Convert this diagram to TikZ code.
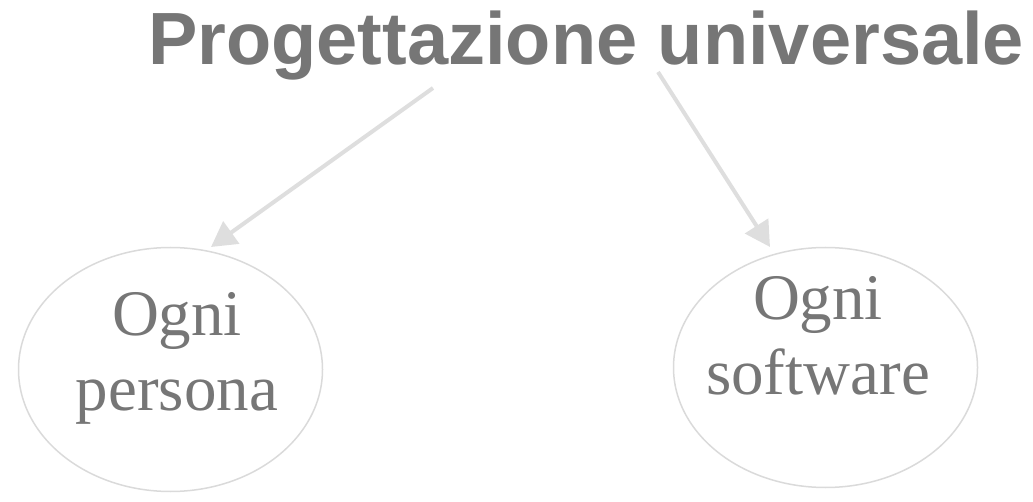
\documentclass[tikz,border=0pt]{standalone}
\usepackage{fontspec}
\setmainfont{Liberation Serif}
\newfontfamily\titlefont{Liberation Sans}
\usetikzlibrary{arrows.meta,shapes.geometric}
\definecolor{txtgray}{HTML}{767676}
\definecolor{arrgray}{HTML}{DEDEDE}
\definecolor{ellgray}{HTML}{DADADA}
\tikzset{
  titlestyle/.style={font=\titlefont\bfseries\fontsize{74}{80}\selectfont, text=txtgray, anchor=base west, inner sep=0pt},
  bubble/.style={ellipse, draw=ellgray, line width=1.5pt, inner sep=0pt},
  bubbletext/.style={font=\fontsize{65}{75}\selectfont, text=txtgray, align=center, anchor=base, inner sep=0pt},
  arr/.style={draw=arrgray, line width=4pt, -{Triangle[length=25pt,width=27pt]}}
}
\begin{document}
\begin{tikzpicture}[x=1pt,y=-1pt]
\useasboundingbox (0,0) rectangle (1033,502);
\node[titlestyle] (title) at (148,65) {Progettazione universale};
\node[bubble, minimum width=304pt, minimum height=244pt] (e1) at (170.5,369.5) {};
\node[bubble, minimum width=304pt, minimum height=240pt] (e2) at (825.5,367.5) {};
\node[bubbletext] (t1) at (177,410) {Ogni\\persona};
\node[bubbletext] (t2) at (818,395) {Ogni\\software};
\coordinate (s1) at (433,88);
\coordinate (p1) at (211,247);
\coordinate (s2) at (658,72);
\coordinate (p2) at (770,247);
\draw[arr] (s1) -- (p1);
\draw[arr] (s2) -- (p2);
\end{tikzpicture}
\end{document}
